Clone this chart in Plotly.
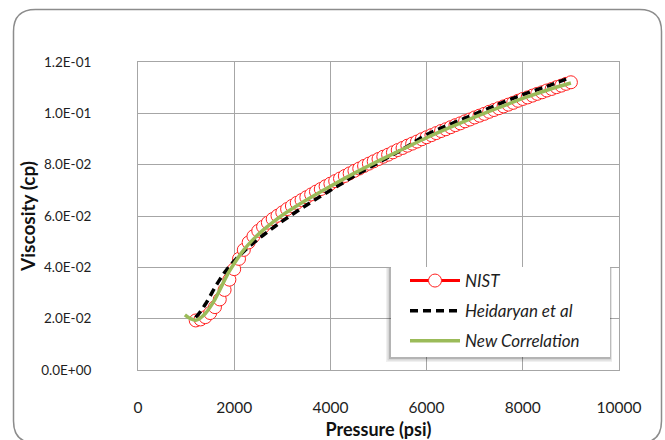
import plotly.graph_objects as go

# --- NIST reference viscosity data (psi, cp) ---
nist_p = [1200, 1300, 1400, 1500, 1600, 1700, 1800, 1900, 2000, 2100,
          2200, 2300, 2400, 2500, 2600, 2700, 2800, 2900, 3000, 3100,
          3200, 3300, 3400, 3500, 3600, 3700, 3800, 3900, 4000, 4100,
          4200, 4300, 4400, 4500, 4600, 4700, 4800, 4900, 5000, 5100,
          5200, 5300, 5400, 5500, 5600, 5700, 5800, 5900, 6000, 6100,
          6200, 6300, 6400, 6500, 6600, 6700, 6800, 6900, 7000, 7100,
          7200, 7300, 7400, 7500, 7600, 7700, 7800, 7900, 8000, 8100,
          8200, 8300, 8400, 8500, 8600, 8700, 8800, 8900, 9000]
nist_mu = [0.0193, 0.0197, 0.0206, 0.0222, 0.0245, 0.0275, 0.0312, 0.0352, 0.0393, 0.0433,
           0.0468, 0.0497, 0.0521, 0.0542, 0.0558, 0.0574, 0.0588, 0.0601, 0.0614, 0.0627,
           0.0639, 0.0651, 0.0662, 0.0673, 0.0684, 0.0695, 0.0705, 0.0716, 0.0726, 0.0736,
           0.0746, 0.0756, 0.0766, 0.0776, 0.0785, 0.0795, 0.0804, 0.0813, 0.0822, 0.0831,
           0.0839, 0.0848, 0.0857, 0.0865, 0.0874, 0.0882, 0.0890, 0.0899, 0.0907, 0.0915,
           0.0923, 0.0931, 0.0938, 0.0946, 0.0954, 0.0961, 0.0969, 0.0976, 0.0984, 0.0991,
           0.0998, 0.1006, 0.1013, 0.1020, 0.1027, 0.1034, 0.1041, 0.1049, 0.1056, 0.1062,
           0.1069, 0.1076, 0.1082, 0.1089, 0.1095, 0.1102, 0.1108, 0.1115, 0.1121]

# --- Heidaryan et al correlation ---
heid_p = [1200, 1300, 1400, 1500, 1600, 1700, 1800, 1900, 2000, 2200,
          2400, 2600, 2800, 3000, 3500, 4000, 4500, 5000, 5500, 6000,
          6500, 7000, 7500, 8000, 8500, 8900]
heid_mu = [0.0205, 0.0228, 0.0256, 0.0288, 0.0322, 0.0352, 0.0380, 0.0404, 0.0425, 0.0462,
           0.0495, 0.0525, 0.0553, 0.0580, 0.0642, 0.0700, 0.0756, 0.0808, 0.0860, 0.0917,
           0.0958, 0.0997, 0.1036, 0.1073, 0.1105, 0.1133]

# --- New correlation ---
newc_p = [975, 1100, 1200, 1300, 1400, 1500, 1600, 1700, 1800, 1900,
          2000, 2200, 2400, 2600, 2800, 3000, 3500, 4000, 4500, 5000,
          5500, 6000, 6500, 7000, 7500, 8000, 8500, 9000]
newc_mu = [0.0215, 0.0199, 0.0194, 0.0203, 0.0220, 0.0245, 0.0275, 0.0312, 0.0350, 0.0385,
           0.0415, 0.0468, 0.0510, 0.0545, 0.0575, 0.0603, 0.0662, 0.0716, 0.0767, 0.0815,
           0.0860, 0.0905, 0.0946, 0.0985, 0.1022, 0.1058, 0.1090, 0.1118]

# --- axis ticks ---
x_ticks = [0, 2000, 4000, 6000, 8000, 10000]
x_labels = ["0", "2000", "4000", "6000", "8000", "10000"]
y_ticks = [0.0, 0.02, 0.04, 0.06, 0.08, 0.10, 0.12]
y_labels = ["0.0E+00", "2.0E-02", "4.0E-02", "6.0E-02", "8.0E-02", "1.0E-01", "1.2E-01"]

W, H = 665, 440
ML, MR, MT, MB = 138, 46, 62, 70
PW, PH = W - ML - MR, H - MT - MB


def px_x(x):
    return (x - ML) / PW


def px_y(y):
    return 1 - (y - MT) / PH


FONT = "Lato, sans-serif"
TXT = "#1E1E1E"

fig = go.Figure()
fig.add_trace(go.Scatter(
    x=nist_p, y=nist_mu, name="NIST", mode="lines+markers",
    line=dict(color="#FF0000", width=3),
    marker=dict(symbol="circle", size=13, color="white",
                line=dict(color="#FF2020", width=1)),
    legendgroup="a",
))
fig.add_trace(go.Scatter(
    x=heid_p, y=heid_mu, name="Heidaryan et al", mode="lines",
    line=dict(color="black", width=3.5, dash="8px,5px", shape="spline"),
    legendgroup="b",
))
fig.add_trace(go.Scatter(
    x=newc_p, y=newc_mu, name="New Correlation", mode="lines",
    line=dict(color="#9BBB59", width=3.5, shape="spline"),
    legendgroup="c",
))

shapes = []
# outer rounded frame of the chart area
x0, x1, y0, y1, r = 13.5, 661.5, 9.5, 443, 22
path = (f"M {px_x(x0 + r)},{px_y(y0)} L {px_x(x1 - r)},{px_y(y0)} "
        f"Q {px_x(x1)},{px_y(y0)} {px_x(x1)},{px_y(y0 + r)} "
        f"L {px_x(x1)},{px_y(y1 - r)} Q {px_x(x1)},{px_y(y1)} {px_x(x1 - r)},{px_y(y1)} "
        f"L {px_x(x0 + r)},{px_y(y1)} Q {px_x(x0)},{px_y(y1)} {px_x(x0)},{px_y(y1 - r)} "
        f"L {px_x(x0)},{px_y(y0 + r)} Q {px_x(x0)},{px_y(y0)} {px_x(x0 + r)},{px_y(y0)} Z")
shapes.append(dict(type="path", xref="paper", yref="paper", path=path,
                   line=dict(color="#8C8C8C", width=1.5), fillcolor="rgba(0,0,0,0)",
                   layer="above"))

# legend panel with soft drop shadow
lx0, lx1, ly0, ly1 = 391, 610, 267, 357
for k, a in [(5, 0.06), (3.5, 0.10), (2, 0.16)]:
    shapes.append(dict(type="rect", xref="paper", yref="paper",
                       x0=px_x(lx0 - k), x1=px_x(lx1 + k * 0.4), y0=px_y(ly0 + 1), y1=px_y(ly1 + k),
                       line=dict(width=0), fillcolor=f"rgba(0,0,0,{a})", layer="above"))
shapes.append(dict(type="rect", xref="paper", yref="paper",
                   x0=px_x(lx0), x1=px_x(lx1), y0=px_y(ly1), y1=px_y(ly0),
                   line=dict(width=0), fillcolor="white", layer="above"))

fig.update_layout(
    width=W, height=H,
    margin=dict(l=ML, r=MR, t=MT, b=MB, autoexpand=False),
    paper_bgcolor="white", plot_bgcolor="white",
    font=dict(family=FONT, color=TXT, size=15),
    showlegend=True,
    legend=dict(
        x=px_x(405), y=px_y(263), xanchor="left", yanchor="top",
        bgcolor="rgba(0,0,0,0)", borderwidth=0,
        font=dict(family=FONT, size=17, style="italic", color=TXT),
        itemwidth=50, traceorder="grouped", tracegroupgap=5,
    ),
    shapes=shapes,
    xaxis=dict(
        range=[0, 10000], tickvals=x_ticks, ticktext=x_labels,
        showgrid=True, gridcolor="#A6A6A6", gridwidth=1,
        showline=True, linecolor="#A6A6A6", linewidth=1, mirror=True,
        ticks="", ticklabelstandoff=23, zeroline=False,
        tickfont=dict(family=FONT, size=15.5, color=TXT),
        title=dict(text="<b>Pressure (psi)</b>", standoff=9,
                   font=dict(family=FONT, size=18, color="#111111")),
    ),
    yaxis=dict(
        range=[0, 0.12], tickvals=y_ticks, ticktext=y_labels,
        showgrid=True, gridcolor="#A6A6A6", gridwidth=1,
        showline=True, linecolor="#A6A6A6", linewidth=1, mirror=True,
        ticks="", ticklabelstandoff=43, zeroline=False,
        tickfont=dict(family=FONT, size=13.5, color=TXT),
        title=dict(text="<b>Viscosity (cp)</b>", standoff=0,
                   font=dict(family=FONT, size=19, color="#111111")),
    ),
)

fig.write_html("out.html")
